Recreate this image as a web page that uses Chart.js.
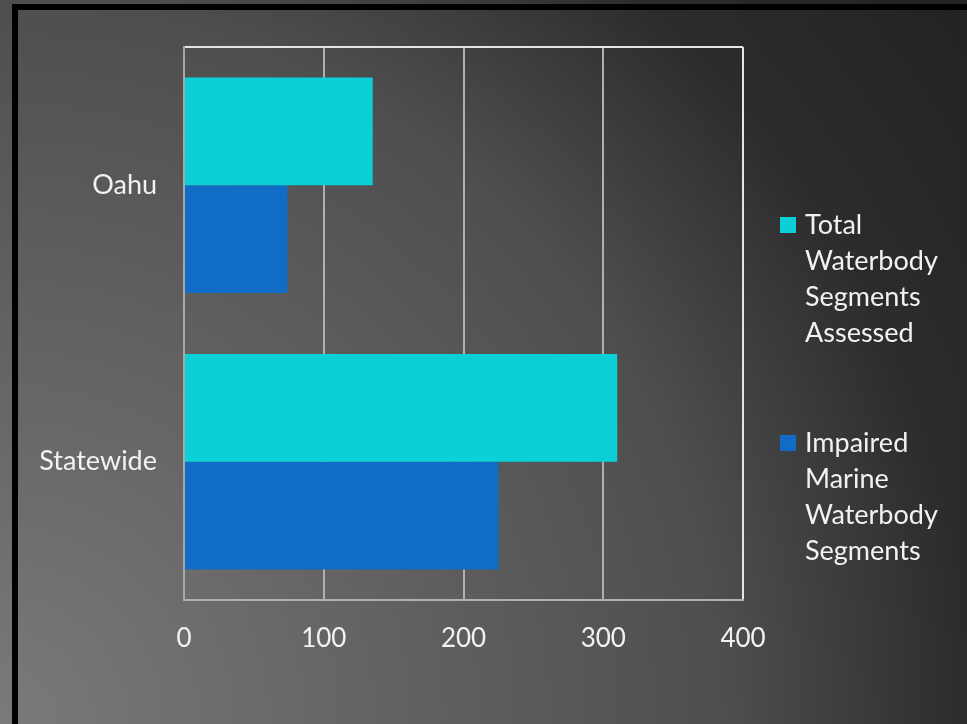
<!DOCTYPE html>
<html lang="en">
<head>
    <meta charset="UTF-8">
    <title>Waterbody Segments</title>
    <script src="https://cdn.jsdelivr.net/npm/chart.js"></script>
    <style>
        html, body {
            margin: 0;
            padding: 0;
            background: #4a4a4a;
        }
        #wrap {
            width: 967px;
            height: 724px;
        }
    </style>
</head>
<body>
    <div id="wrap"><canvas id="myChart"></canvas></div>

    <script>
        // data
        const regions = ['Oahu', 'Statewide'];
        const totalAssessed = [135, 310];
        const impairedMarine = [74, 225];
        const xTicks = [0, 100, 200, 300, 400];
        const legendLines = [
            ['Total', 'Waterbody', 'Segments', 'Assessed'],
            ['Impaired', 'Marine', 'Waterbody', 'Segments']
        ];

        const textFont = 'Lato, "Open Sans", sans-serif';
        const textColor = '#f2f2f2';

        // slide-like background with a dark frame on top and left
        const backdrop = {
            id: 'backdrop',
            beforeDraw(chart) {
                const ctx = chart.ctx;
                const w = chart.width, h = chart.height;
                ctx.save();
                const g = ctx.createRadialGradient(0, h, 0, 0, h, 1210);
                g.addColorStop(0, '#7a7a7a');
                g.addColorStop(0.6, '#4e4e4e');
                g.addColorStop(0.8, '#2c2c2c');
                g.addColorStop(1, '#222222');
                ctx.fillStyle = g;
                ctx.fillRect(0, 0, w, h);
                ctx.fillStyle = '#000';
                ctx.fillRect(12, 4, w - 12, 6);
                ctx.fillRect(12, 4, 6, h - 4);
                ctx.restore();
            }
        };

        // legend on the right, one box per dataset with wrapped label
        const sideLegend = {
            id: 'sideLegend',
            afterDraw(chart) {
                const ctx = chart.ctx;
                const starts = [225, 443];
                ctx.save();
                ctx.font = '27px ' + textFont;
                ctx.textBaseline = 'middle';
                ctx.textAlign = 'left';
                chart.data.datasets.forEach((ds, i) => {
                    const y0 = starts[i];
                    ctx.fillStyle = ds.backgroundColor;
                    ctx.fillRect(780, y0 - 8, 16, 16);
                    ctx.fillStyle = textColor;
                    legendLines[i].forEach((line, j) => {
                        ctx.fillText(line, 805, y0 + j * 36);
                    });
                });
                ctx.restore();
            }
        };

        const ctx = document.getElementById('myChart').getContext('2d');
        const myChart = new Chart(ctx, {
            type: 'bar',
            data: {
                labels: regions,
                datasets: [
                    {
                        label: legendLines[0].join(' '),
                        data: totalAssessed,
                        backgroundColor: '#0cd0d8'
                    },
                    {
                        label: legendLines[1].join(' '),
                        data: impairedMarine,
                        backgroundColor: '#106cc4'
                    }
                ]
            },
            options: {
                indexAxis: 'y',
                responsive: true,
                maintainAspectRatio: false,
                animation: false,
                categoryPercentage: 0.78,
                barPercentage: 1,
                layout: {
                    padding: { left: 0, top: 47, right: 224, bottom: 64 }
                },
                plugins: {
                    legend: { display: false },
                    tooltip: { enabled: false }
                },
                scales: {
                    x: {
                        min: 0,
                        max: 400,
                        afterBuildTicks: (scale) => {
                            scale.ticks = xTicks.map(v => ({ value: v }));
                        },
                        afterFit: (scale) => { scale.height = 60; },
                        grid: {
                            drawTicks: false,
                            lineWidth: 2,
                            color: (c) => (c.tick && c.tick.value === 400) ? '#e4e4e4' : '#b0b0b0'
                        },
                        border: { color: '#b0b0b0', width: 2 },
                        ticks: {
                            padding: 23,
                            color: textColor,
                            font: { family: textFont, size: 26 }
                        }
                    },
                    y: {
                        afterFit: (scale) => { scale.width = 184; },
                        grid: {
                            drawTicks: false,
                            lineWidth: 2,
                            color: (c) => c.index === 0 ? '#e4e4e4' : 'rgba(0,0,0,0)'
                        },
                        border: { color: '#a8a8a8', width: 2 },
                        ticks: {
                            padding: 27,
                            color: textColor,
                            font: { family: textFont, size: 27 }
                        }
                    }
                }
            },
            plugins: [backdrop, sideLegend]
        });
    </script>
</body>
</html>
